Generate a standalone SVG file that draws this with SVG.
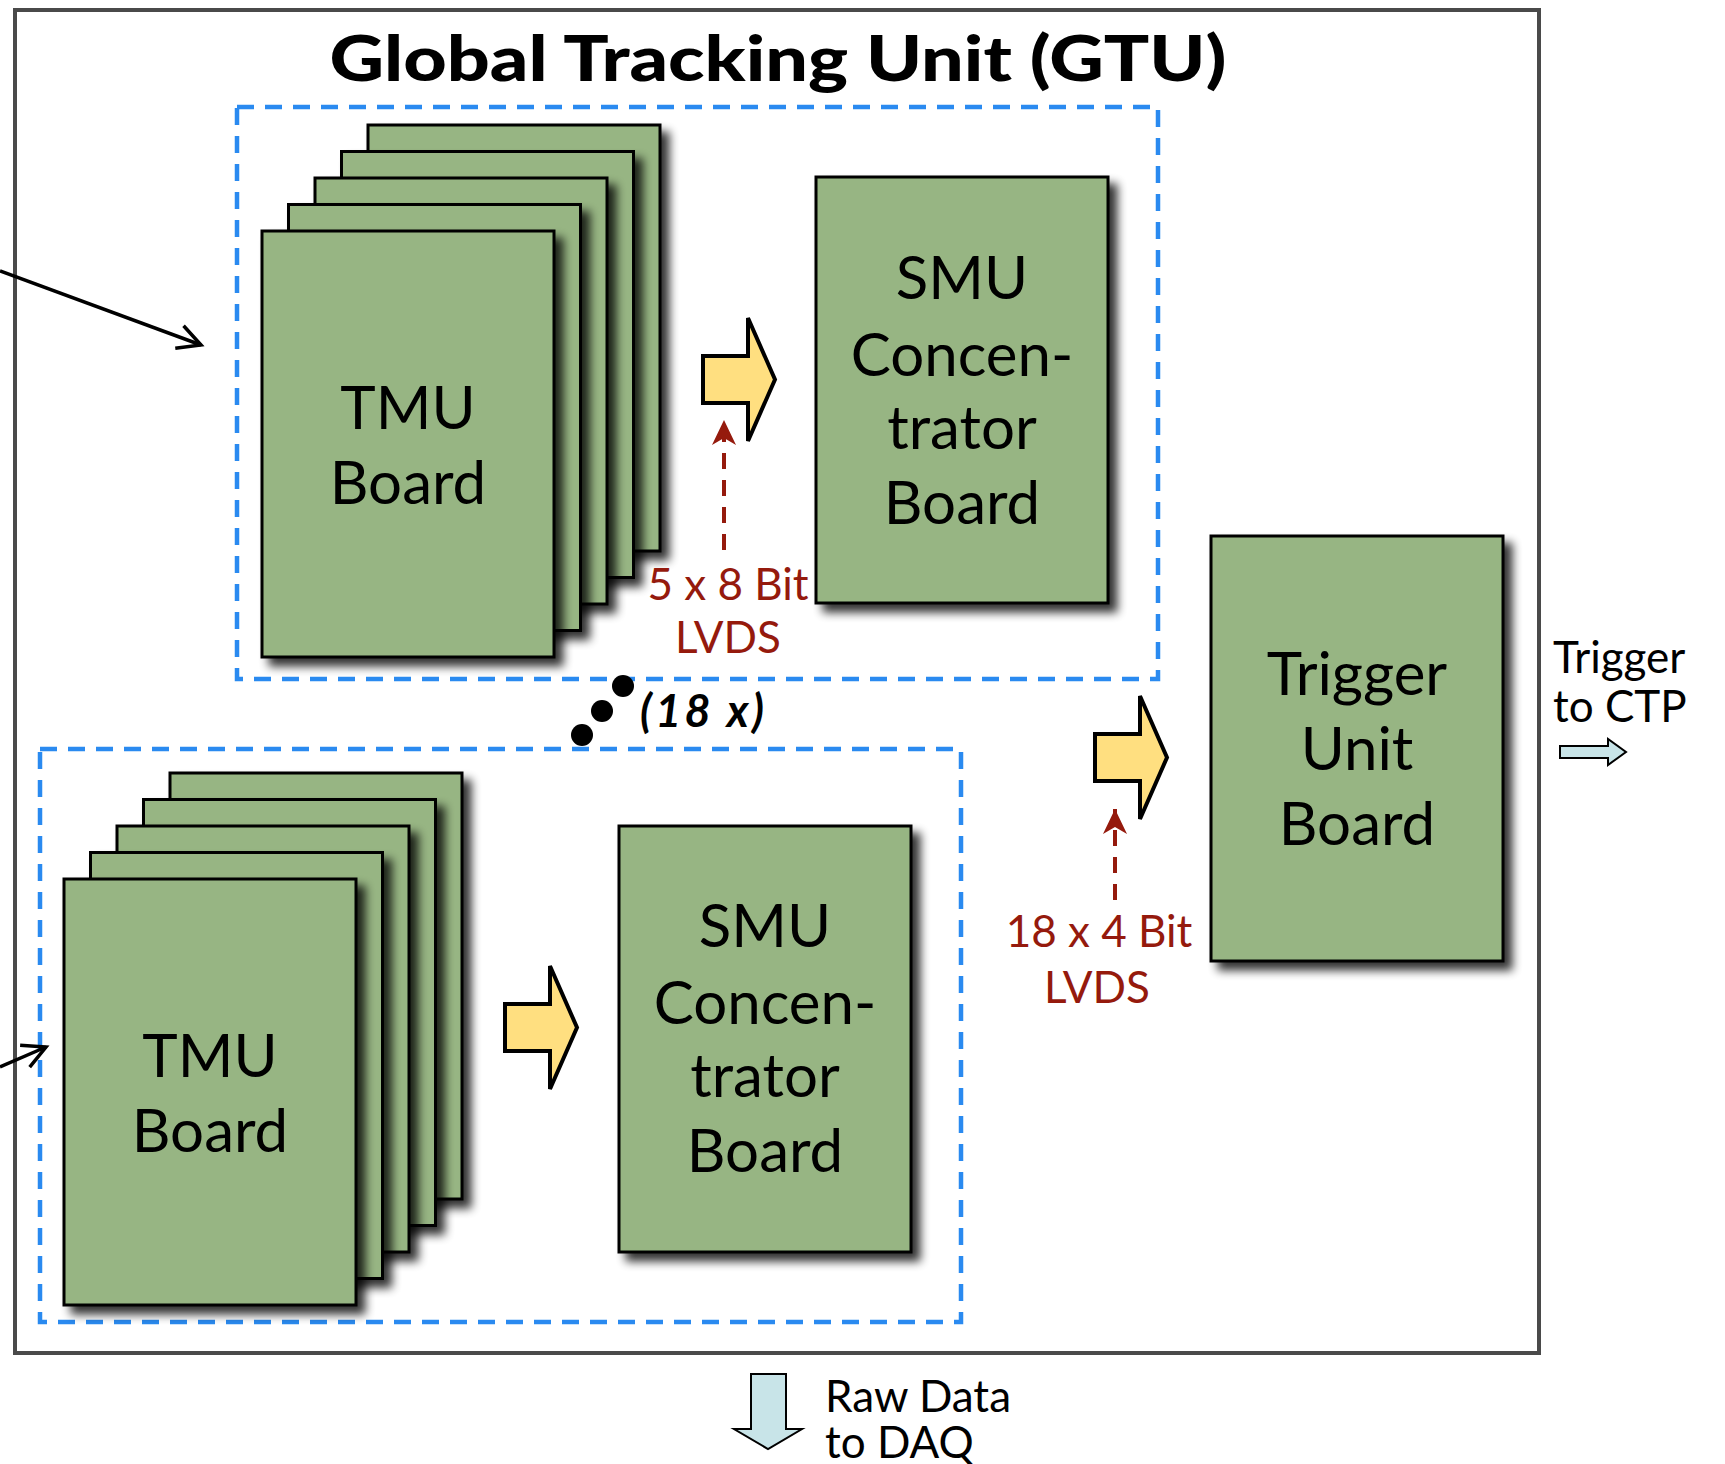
<svg xmlns="http://www.w3.org/2000/svg" width="1725" height="1464" viewBox="0 0 1725 1464">
<defs>
<style>
.board{fill:#97b583;stroke:#000;stroke-width:3;filter:url(#shadow)}
.lbl{font-family:Lato,"Liberation Sans",sans-serif;font-size:60px;fill:#000;text-anchor:middle}
.red{font-family:Lato,"Liberation Sans",sans-serif;font-size:44px;fill:#951a0d;text-anchor:middle}
.side{font-family:Lato,"Liberation Sans",sans-serif;font-size:44px;fill:#000}
.group{fill:none;stroke:#2a8af0;stroke-width:4.5;stroke-dasharray:17 11}
.fat{fill:#ffdf80;stroke:#000;stroke-width:4;stroke-linejoin:miter}
.out{fill:#c8e4e8;stroke:#000;stroke-width:2}
.reddash{fill:none;stroke:#951a0d;stroke-width:4;stroke-dasharray:16 11}
.inarrow{fill:none;stroke:#000;stroke-width:3.5}
</style>
<filter id="shadow" x="-20%" y="-20%" width="150%" height="150%">
<feGaussianBlur in="SourceAlpha" stdDeviation="5"/>
<feOffset dx="8" dy="8" result="b"/>
<feComponentTransfer><feFuncA type="linear" slope="0.8"/></feComponentTransfer>
<feMerge><feMergeNode/><feMergeNode in="SourceGraphic"/></feMerge>
</filter>
<marker id="open" markerUnits="userSpaceOnUse" markerWidth="34" markerHeight="34" refX="28" refY="17" orient="auto">
<path d="M5,5 L28,17 L5,29" fill="none" stroke="#000" stroke-width="3.5"/>
</marker>
<marker id="redhead" markerUnits="userSpaceOnUse" markerWidth="30" markerHeight="30" refX="26" refY="15" orient="auto">
<path d="M26,15 L1,3 L8,15 L1,27 Z" fill="#951a0d"/>
</marker>
</defs>
<rect width="1725" height="1464" fill="#fff"/>
<rect id="gtu-frame" x="15" y="10" width="1524" height="1343" fill="none" stroke="#4a4a4a" stroke-width="4"/>
<text x="778" y="81" font-family="Lato,'Liberation Sans',sans-serif" font-weight="900" font-size="63" text-anchor="middle" textLength="897" lengthAdjust="spacingAndGlyphs">Global Tracking Unit (GTU)</text>

<g id="group-top">
<rect class="group" x="237" y="107" width="921" height="572"/>
</g>
<g id="group-bottom">
<rect class="group" x="40" y="749" width="921" height="573"/>
</g>

<g id="tmu-top">
<rect class="board" x="368" y="125" width="292" height="426"/>
<rect class="board" x="341.5" y="151.5" width="292" height="426"/>
<rect class="board" x="315" y="178" width="292" height="426"/>
<rect class="board" x="288.5" y="204.5" width="292" height="426"/>
<rect class="board" x="262" y="231" width="292" height="426"/>
<text class="lbl" x="408" y="429">TMU</text>
<text class="lbl" x="408" y="504">Board</text>
</g>

<g id="smu-top">
<rect class="board" x="816" y="177" width="292" height="426"/>
<text class="lbl" x="962" y="299">SMU</text>
<text class="lbl" x="962" y="376">Concen-</text>
<text class="lbl" x="962" y="449">trator</text>
<text class="lbl" x="962" y="524">Board</text>
</g>

<g id="tmu-bottom">
<rect class="board" x="170" y="773" width="292" height="426"/>
<rect class="board" x="143.5" y="799.5" width="292" height="426"/>
<rect class="board" x="117" y="826" width="292" height="426"/>
<rect class="board" x="90.5" y="852.5" width="292" height="426"/>
<rect class="board" x="64" y="879" width="292" height="426"/>
<text class="lbl" x="210" y="1077">TMU</text>
<text class="lbl" x="210" y="1152">Board</text>
</g>

<g id="smu-bottom">
<rect class="board" x="619" y="826" width="292" height="426"/>
<text class="lbl" x="765" y="947">SMU</text>
<text class="lbl" x="765" y="1024">Concen-</text>
<text class="lbl" x="765" y="1097">trator</text>
<text class="lbl" x="765" y="1172">Board</text>
</g>

<g id="trigger-unit">
<rect class="board" x="1211" y="536" width="292" height="425"/>
<text class="lbl" x="1357" y="695">Trigger</text>
<text class="lbl" x="1357" y="770">Unit</text>
<text class="lbl" x="1357" y="845">Board</text>
</g>

<g id="multiplicity">
<circle cx="623" cy="686" r="11"/>
<circle cx="602" cy="711" r="11"/>
<circle cx="582" cy="735" r="11"/>
<text x="640" y="727" font-family="Lato,'Liberation Sans',sans-serif" font-weight="bold" font-style="italic" font-size="45" textLength="124" lengthAdjust="spacing">(18 x)</text>
</g>

<g id="connectors">
<polygon class="fat" points="703,356 748,356 748,318 775,379.5 748,441 748,403 703,403"/>
<polygon class="fat" points="505,1004 550,1004 550,966 577,1027.5 550,1089 550,1051 505,1051"/>
<polygon class="fat" points="1095,734 1140,734 1140,696 1167,757.5 1140,819 1140,781 1095,781"/>
<line class="reddash" x1="724" y1="550" x2="724" y2="420" marker-end="url(#redhead)"/>
<line class="reddash" x1="1115" y1="900" x2="1115" y2="809" marker-end="url(#redhead)"/>
<line class="inarrow" x1="0" y1="271" x2="201" y2="345" marker-end="url(#open)"/>
<line class="inarrow" x1="0" y1="1067" x2="46" y2="1047" marker-end="url(#open)"/>
<polygon class="out" points="1560,746 1608,746 1608,739 1626,752 1608,765 1608,758 1560,758"/>
<polygon class="out" points="751,1374 786,1374 786,1429 802,1429 768,1449 734,1429 751,1429"/>
</g>

<g id="labels">
<text class="red" x="728" y="600">5 x 8 Bit</text>
<text class="red" x="728" y="653">LVDS</text>
<text class="red" x="1099" y="947">18 x 4 Bit</text>
<text class="red" x="1097" y="1003">LVDS</text>
<text class="side" x="1553" y="673">Trigger</text>
<text class="side" x="1553" y="722">to CTP</text>
<text class="side" x="825" y="1412">Raw Data</text>
<text class="side" x="825" y="1458">to DAQ</text>
</g>
</svg>
